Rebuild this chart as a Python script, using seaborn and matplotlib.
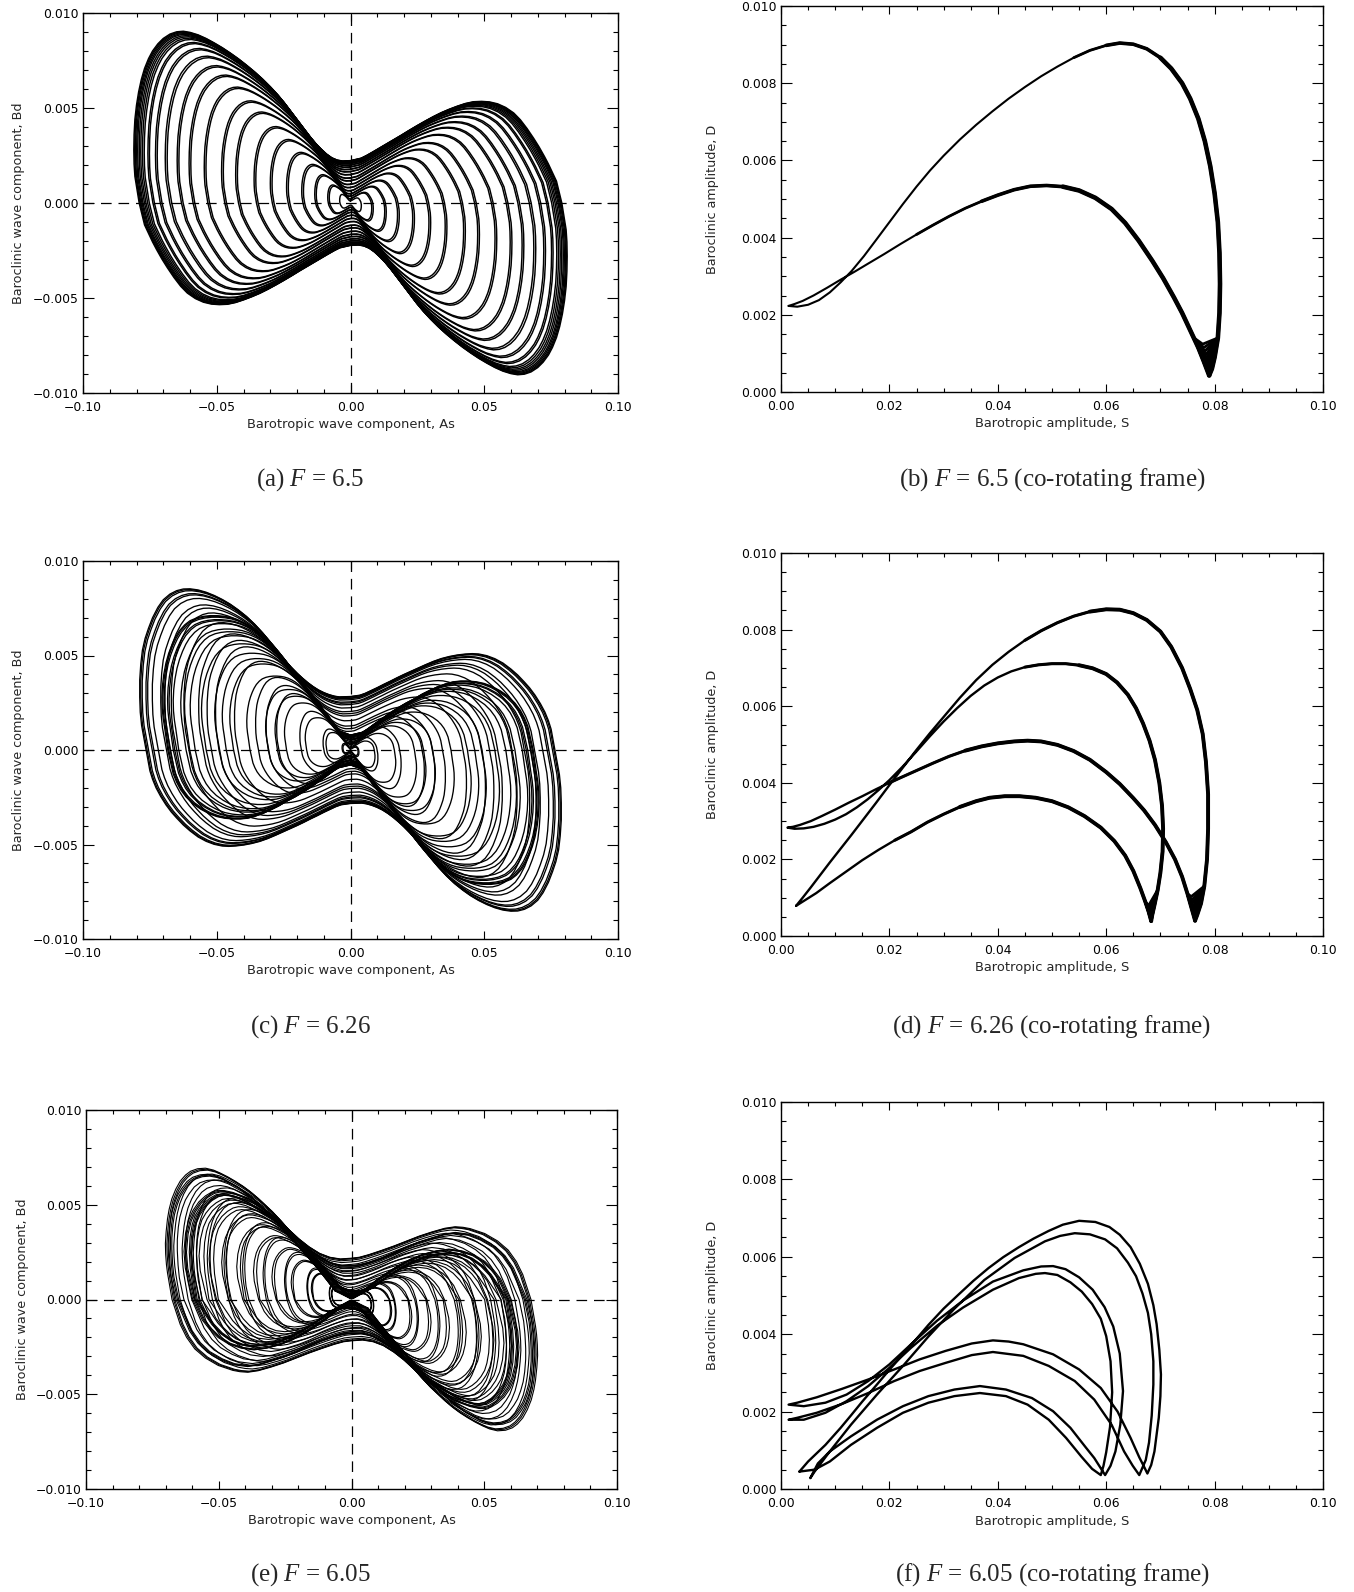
import numpy as np
import pandas as pd
import matplotlib
matplotlib.use("Agg")
import matplotlib.pyplot as plt
import seaborn as sns
from matplotlib.ticker import MultipleLocator, FuncFormatter

# ---------------------------------------------------------------
# Co-rotating frame loops (S, D).
# Each segment runs tip -> cusp (rising arch) or cusp -> tip.
# ---------------------------------------------------------------
# F = 6.5 : one arch pair
b_rise = [(0.0014, 0.00223), (0.0030, 0.00221), (0.0050, 0.00226), (0.0070, 0.00238), (0.0090, 0.00258),
          (0.0110, 0.00284), (0.0130, 0.00313), (0.0153, 0.00352), (0.0175, 0.00393), (0.0200, 0.00440),
          (0.0225, 0.00487), (0.0250, 0.00532), (0.0275, 0.00574), (0.0300, 0.00612), (0.0330, 0.00654),
          (0.0360, 0.00692), (0.0390, 0.00727), (0.0420, 0.00760), (0.0450, 0.00790), (0.0480, 0.00818),
          (0.0510, 0.00843), (0.0540, 0.00866), (0.0570, 0.00885), (0.0600, 0.00898), (0.0625, 0.00904),
          (0.0650, 0.00901), (0.0675, 0.00889), (0.0700, 0.00866), (0.0720, 0.00838), (0.0740, 0.00800),
          (0.0755, 0.00760), (0.0770, 0.00708), (0.0782, 0.00650), (0.0792, 0.00585), (0.0800, 0.00515),
          (0.0806, 0.00440), (0.0809, 0.00360), (0.0810, 0.00280), (0.0809, 0.00205), (0.0806, 0.00140),
          (0.0800, 0.00090), (0.0795, 0.00060), (0.0790, 0.00043)]
b_fall = [(0.0790, 0.00043), (0.0780, 0.00080), (0.0770, 0.00115), (0.0755, 0.00160), (0.0740, 0.00205),
          (0.0725, 0.00245), (0.0705, 0.00295), (0.0685, 0.00340), (0.0660, 0.00392), (0.0635, 0.00438),
          (0.0610, 0.00474), (0.0580, 0.00503), (0.0550, 0.00522), (0.0520, 0.00532), (0.0490, 0.00535),
          (0.0460, 0.00533), (0.0430, 0.00524), (0.0400, 0.00510), (0.0370, 0.00494), (0.0340, 0.00476),
          (0.0310, 0.00455), (0.0280, 0.00432), (0.0250, 0.00408), (0.0220, 0.00383), (0.0190, 0.00357),
          (0.0160, 0.00332), (0.0135, 0.00311), (0.0110, 0.00291), (0.0085, 0.00270), (0.0060, 0.00250),
          (0.0040, 0.00236), (0.0025, 0.00228), (0.0014, 0.00223)]
# depth of the cusp on successive passes (the black wedge near S = 0.079)
b_cusp_S = [0.0790, 0.0789, 0.0788, 0.0787, 0.0786, 0.0785, 0.0784, 0.0782, 0.0780, 0.0778]
b_cusp_D = [0.00043, 0.00052, 0.00061, 0.00070, 0.00079, 0.00088, 0.00097, 0.00106, 0.00115, 0.00124]

# F = 6.26 : two arch pairs
d_seg0 = [(0.0028, 0.00079), (0.0040, 0.00100), (0.0055, 0.00127), (0.0070, 0.00155), (0.0090, 0.00192),
          (0.0110, 0.00228), (0.0130, 0.00264), (0.0150, 0.00301), (0.0175, 0.00347), (0.0200, 0.00394),
          (0.0225, 0.00440), (0.0250, 0.00486), (0.0275, 0.00530), (0.0300, 0.00572), (0.0330, 0.00622),
          (0.0360, 0.00668), (0.0390, 0.00708), (0.0420, 0.00742), (0.0450, 0.00772), (0.0480, 0.00797),
          (0.0510, 0.00818), (0.0540, 0.00835), (0.0570, 0.00847), (0.0600, 0.00853), (0.0625, 0.00852),
          (0.0650, 0.00843), (0.0675, 0.00825), (0.0700, 0.00795), (0.0720, 0.00755), (0.0740, 0.00700),
          (0.0755, 0.00645), (0.0768, 0.00590), (0.0778, 0.00528), (0.0784, 0.00455), (0.0788, 0.00370),
          (0.0788, 0.00280), (0.0786, 0.00200), (0.0781, 0.00130), (0.0775, 0.00085), (0.0768, 0.00055),
          (0.0764, 0.00040)]
d_seg1 = [(0.0764, 0.00040), (0.0757, 0.00075), (0.0750, 0.00110), (0.0740, 0.00155), (0.0727, 0.00200),
          (0.0710, 0.00245), (0.0690, 0.00290), (0.0670, 0.00328), (0.0650, 0.00360), (0.0625, 0.00397),
          (0.0600, 0.00428), (0.0570, 0.00460), (0.0540, 0.00483), (0.0510, 0.00499), (0.0480, 0.00508),
          (0.0455, 0.00510), (0.0430, 0.00508), (0.0400, 0.00503), (0.0370, 0.00495), (0.0340, 0.00484),
          (0.0310, 0.00469), (0.0280, 0.00451), (0.0250, 0.00432), (0.0220, 0.00413), (0.0200, 0.00400),
          (0.0175, 0.00383), (0.0150, 0.00365), (0.0125, 0.00348), (0.0100, 0.00330), (0.0075, 0.00313),
          (0.0055, 0.00300), (0.0035, 0.00290), (0.0022, 0.00285), (0.0012, 0.00283)]
d_seg2 = [(0.0012, 0.00283), (0.0025, 0.00280), (0.0042, 0.00281), (0.0060, 0.00285), (0.0080, 0.00293),
          (0.0100, 0.00304), (0.0120, 0.00318), (0.0140, 0.00336), (0.0160, 0.00357), (0.0180, 0.00381),
          (0.0200, 0.00407), (0.0225, 0.00443), (0.0250, 0.00482), (0.0275, 0.00522), (0.0300, 0.00560),
          (0.0325, 0.00595), (0.0350, 0.00627), (0.0375, 0.00654), (0.0400, 0.00675), (0.0425, 0.00691),
          (0.0450, 0.00702), (0.0475, 0.00708), (0.0500, 0.00711), (0.0525, 0.00711), (0.0550, 0.00707),
          (0.0575, 0.00699), (0.0600, 0.00684), (0.0620, 0.00662), (0.0640, 0.00630), (0.0655, 0.00595),
          (0.0668, 0.00555), (0.0680, 0.00510), (0.0690, 0.00460), (0.0698, 0.00400), (0.0703, 0.00340),
          (0.0705, 0.00280), (0.0704, 0.00220), (0.0700, 0.00165), (0.0695, 0.00120), (0.0689, 0.00080),
          (0.0685, 0.00055), (0.0683, 0.00039)]
d_seg3 = [(0.0683, 0.00039), (0.0678, 0.00065), (0.0672, 0.00090), (0.0663, 0.00125), (0.0650, 0.00170),
          (0.0635, 0.00210), (0.0615, 0.00248), (0.0590, 0.00283), (0.0560, 0.00313), (0.0530, 0.00336),
          (0.0500, 0.00352), (0.0470, 0.00361), (0.0440, 0.00365), (0.0413, 0.00365), (0.0385, 0.00361),
          (0.0360, 0.00352), (0.0330, 0.00337), (0.0300, 0.00318), (0.0270, 0.00297), (0.0240, 0.00272),
          (0.0210, 0.00250), (0.0180, 0.00225), (0.0150, 0.00198), (0.0120, 0.00168), (0.0090, 0.00138),
          (0.0065, 0.00112), (0.0045, 0.00094), (0.0028, 0.00079)]
d_cusp1_S = [0.0764, 0.0763, 0.0762, 0.0761, 0.0760, 0.0759, 0.0758, 0.0757]
d_cusp1_D = [0.00040, 0.00049, 0.00058, 0.00067, 0.00076, 0.00085, 0.00094, 0.00103]
d_cusp2_S = [0.0683, 0.0682, 0.0681, 0.0680, 0.0679, 0.0678]
d_cusp2_D = [0.00039, 0.00047, 0.00055, 0.00063, 0.00071, 0.00079]

# F = 6.05 : four arch pairs
f_seg0 = [(0.0034, 0.00045), (0.0050, 0.00071), (0.0082, 0.00114), (0.0110, 0.00158), (0.0129, 0.00190),
          (0.0150, 0.00226), (0.0177, 0.00270), (0.0200, 0.00308), (0.0225, 0.00348), (0.0250, 0.00388),
          (0.0272, 0.00424), (0.0300, 0.00466), (0.0328, 0.00503), (0.0355, 0.00538), (0.0383, 0.00571),
          (0.0410, 0.00599), (0.0439, 0.00625), (0.0466, 0.00647), (0.0494, 0.00667), (0.0520, 0.00683),
          (0.0550, 0.00693), (0.0580, 0.00690), (0.0606, 0.00677), (0.0625, 0.00657), (0.0645, 0.00625),
          (0.0662, 0.00582), (0.0677, 0.00530), (0.0687, 0.00475), (0.0693, 0.00426), (0.0698, 0.00360),
          (0.0701, 0.00296), (0.0700, 0.00240), (0.0697, 0.00184), (0.0693, 0.00140), (0.0689, 0.00097),
          (0.0683, 0.00062), (0.0676, 0.00040)]
f_seg1 = [(0.0676, 0.00040), (0.0669, 0.00060), (0.0661, 0.00082), (0.0645, 0.00132), (0.0621, 0.00200),
          (0.0590, 0.00261), (0.0550, 0.00309), (0.0502, 0.00348), (0.0447, 0.00374), (0.0420, 0.00381),
          (0.0391, 0.00384), (0.0352, 0.00376), (0.0304, 0.00357), (0.0256, 0.00335), (0.0209, 0.00309),
          (0.0161, 0.00283), (0.0113, 0.00259), (0.0066, 0.00237), (0.0030, 0.00223), (0.0014, 0.00218)]
f_seg2 = [(0.0014, 0.00218), (0.0042, 0.00214), (0.0082, 0.00223), (0.0121, 0.00244), (0.0161, 0.00279),
          (0.0200, 0.00322), (0.0240, 0.00374), (0.0288, 0.00435), (0.0336, 0.00487), (0.0391, 0.00536),
          (0.0447, 0.00565), (0.0480, 0.00575), (0.0502, 0.00576), (0.0525, 0.00568), (0.0550, 0.00547),
          (0.0575, 0.00515), (0.0597, 0.00470), (0.0613, 0.00420), (0.0625, 0.00350), (0.0631, 0.00253),
          (0.0626, 0.00166), (0.0617, 0.00097), (0.0608, 0.00060), (0.0598, 0.00036)]
f_seg3 = [(0.0598, 0.00036), (0.0588, 0.00058), (0.0578, 0.00080), (0.0562, 0.00108), (0.0534, 0.00158),
          (0.0502, 0.00201), (0.0463, 0.00235), (0.0415, 0.00257), (0.0367, 0.00266), (0.0320, 0.00257),
          (0.0272, 0.00240), (0.0225, 0.00214), (0.0177, 0.00179), (0.0129, 0.00136), (0.0090, 0.00097),
          (0.0068, 0.00066), (0.0054, 0.00028)]
f_seg4 = [(0.0054, 0.00028), (0.0062, 0.00045), (0.0090, 0.00097), (0.0129, 0.00166), (0.0177, 0.00244),
          (0.0225, 0.00318), (0.0272, 0.00394), (0.0320, 0.00466), (0.0375, 0.00540), (0.0431, 0.00597),
          (0.0487, 0.00640), (0.0515, 0.00654), (0.0542, 0.00661), (0.0570, 0.00658), (0.0598, 0.00645),
          (0.0620, 0.00622), (0.0640, 0.00585), (0.0655, 0.00550), (0.0667, 0.00505), (0.0677, 0.00455),
          (0.0683, 0.00400), (0.0687, 0.00330), (0.0687, 0.00270), (0.0684, 0.00190), (0.0679, 0.00120),
          (0.0673, 0.00075), (0.0661, 0.00036)]
f_seg5 = [(0.0661, 0.00036), (0.0649, 0.00060), (0.0633, 0.00097), (0.0610, 0.00166), (0.0578, 0.00231),
          (0.0542, 0.00279), (0.0494, 0.00318), (0.0447, 0.00344), (0.0391, 0.00354), (0.0352, 0.00346),
          (0.0304, 0.00326), (0.0256, 0.00305), (0.0209, 0.00279), (0.0161, 0.00248), (0.0113, 0.00220),
          (0.0066, 0.00197), (0.0030, 0.00184), (0.0014, 0.00179)]
f_seg6 = [(0.0014, 0.00179), (0.0042, 0.00179), (0.0082, 0.00197), (0.0121, 0.00227), (0.0161, 0.00266),
          (0.0200, 0.00313), (0.0240, 0.00365), (0.0288, 0.00422), (0.0336, 0.00469), (0.0391, 0.00515),
          (0.0439, 0.00545), (0.0470, 0.00556), (0.0487, 0.00558), (0.0510, 0.00553), (0.0534, 0.00534),
          (0.0555, 0.00510), (0.0574, 0.00478), (0.0590, 0.00440), (0.0600, 0.00395), (0.0608, 0.00330),
          (0.0611, 0.00250), (0.0607, 0.00160), (0.0600, 0.00095), (0.0595, 0.00060), (0.0590, 0.00036)]
f_seg7 = [(0.0590, 0.00036), (0.0574, 0.00052), (0.0554, 0.00084), (0.0526, 0.00132), (0.0494, 0.00179),
          (0.0455, 0.00218), (0.0415, 0.00240), (0.0367, 0.00248), (0.0320, 0.00240), (0.0272, 0.00223),
          (0.0225, 0.00197), (0.0177, 0.00158), (0.0129, 0.00114), (0.0090, 0.00071), (0.0062, 0.00050),
          (0.0034, 0.00045)]

# size of the successive nested loops in the fixed-frame panels
# (outer extent of each loop relative to the outermost one)
scale_a = [1.000, 0.996, 0.992, 0.987, 0.982, 0.975, 0.968, 0.960, 0.952, 0.935, 0.928, 0.900, 0.892,
           0.855, 0.846, 0.800, 0.792, 0.745, 0.737, 0.675, 0.667, 0.595, 0.587, 0.530, 0.522, 0.445,
           0.437, 0.370, 0.362, 0.295, 0.287, 0.225, 0.217, 0.165, 0.158, 0.105, 0.098, 0.050]
scale_c = [1.000, 0.995, 0.988, 0.970, 0.962, 0.940, 0.900, 0.880, 0.850, 0.790, 0.720, 0.680, 0.640,
           0.550, 0.450, 0.400, 0.350, 0.240, 0.130, 0.040]
scale_e = [1.000, 0.992, 0.985, 0.955, 0.910, 0.850, 0.775, 0.685, 0.585, 0.475, 0.360, 0.240, 0.120]

captions = ["(a) $F$ = 6.5", "(b) $F$ = 6.5 (co-rotating frame)",
            "(c) $F$ = 6.26", "(d) $F$ = 6.26 (co-rotating frame)",
            "(e) $F$ = 6.05", "(f) $F$ = 6.05 (co-rotating frame)"]

# ---------------------------------------------------------------
sns.set_style("ticks")
plt.rcParams.update({
    "font.family": ["DejaVu Sans"],
    "mathtext.fontset": "custom",
    "mathtext.rm": "Liberation Serif",
    "mathtext.it": "Liberation Serif:italic",
    "axes.linewidth": 1.0,
    "axes.edgecolor": "black",
})

W, H = 1354, 1592
fig = plt.figure(figsize=(W / 100, H / 100), dpi=100)


def px_axes(x0, y0, x1, y1):
    return fig.add_axes([x0 / W, 1 - y1 / H, (x1 - x0) / W, (y1 - y0) / H])


def signed_track(segments):
    # In the fixed frame As changes sign as S passes through its minimum
    # (tip) and Bd changes sign as D passes through its minimum (cusp).
    sa, sb = -1.0, 1.0
    xs, ys = [], []
    reps = 0
    while True:
        for i, seg in enumerate(segments):
            rising = i % 2 == 0
            if not rising:
                sb = -sb
            elif xs:
                sa = -sa
            n = len(seg)
            tip_j, cusp_j = (0, n - 1) if rising else (n - 1, 0)
            for j, (s, d) in enumerate(seg):
                if j == tip_j:
                    s = 0.0
                elif j == cusp_j:
                    d = 0.0
                elif abs(j - tip_j) <= 2 and s < 0.003:
                    continue
                elif abs(j - cusp_j) <= 3 and d < 0.001:
                    continue
                xs.append(sa * s)
                ys.append(sb * d)
        reps += 1
        if (-sa, sb) == (-1.0, 1.0):
            break
    xs.append(xs[0])
    ys.append(ys[0])
    return np.array(xs), np.array(ys), reps == 2


def fmt(dec):
    def f(v, pos):
        s = f"{v:.{dec}f}"
        if float(s) == 0:
            s = f"{0:.{dec}f}"
        return s.replace("-", "\u2212")
    return FuncFormatter(f)


def style_axes(ax, left_panel):
    if left_panel:
        ax.set_xlim(-0.1, 0.1)
        ax.set_ylim(-0.01, 0.01)
        ax.xaxis.set_major_locator(MultipleLocator(0.05))
        ax.xaxis.set_minor_locator(MultipleLocator(0.01))
        ax.yaxis.set_major_locator(MultipleLocator(0.005))
        ax.yaxis.set_minor_locator(MultipleLocator(0.001))
        ax.set_xlabel("Barotropic wave component, As", fontsize=9.4)
        ax.set_ylabel("Baroclinic wave component, Bd", fontsize=9.2)
    else:
        ax.set_xlim(0, 0.1)
        ax.set_ylim(0, 0.01)
        ax.xaxis.set_major_locator(MultipleLocator(0.02))
        ax.xaxis.set_minor_locator(MultipleLocator(0.005))
        ax.yaxis.set_major_locator(MultipleLocator(0.002))
        ax.yaxis.set_minor_locator(MultipleLocator(0.0005))
        ax.set_xlabel("Barotropic amplitude, S", fontsize=9.4)
        ax.set_ylabel("Baroclinic amplitude, D", fontsize=9.2)
    ax.xaxis.set_major_formatter(fmt(2))
    ax.yaxis.set_major_formatter(fmt(3))
    ax.tick_params(which="both", direction="in", top=True, right=True, width=0.8,
                   colors="black", labelsize=8.9)
    ax.tick_params(axis="x", which="major", length=5.5, pad=6)
    ax.tick_params(axis="x", which="minor", length=2.8)
    ax.tick_params(axis="y", which="major", length=7.7, pad=3.5)
    ax.tick_params(axis="y", which="minor", length=3.9)
    ax.xaxis.set_label_coords(0.5, -0.066)
    ax.yaxis.set_label_coords(-0.108 if left_panel else -0.114, 0.5)
    for sp in ax.spines.values():
        sp.set_linewidth(1.0)
        sp.set_color("black")


def phase_panel(ax, segments, scales, lw):
    xs, ys, sym = signed_track(segments)
    parts = []
    for k, s in enumerate(scales):
        parts.append(pd.DataFrame({"As": s * xs, "Bd": s * ys, "trace": f"{k}p"}))
        if not sym:
            parts.append(pd.DataFrame({"As": -s * xs, "Bd": -s * ys, "trace": f"{k}m"}))
    df = pd.concat(parts, ignore_index=True)
    ax.axhline(0, color="black", lw=0.9, dashes=(8.5, 5.5), zorder=1)
    ax.axvline(0, color="black", lw=0.9, dashes=(8.5, 5.5), zorder=1)
    sns.lineplot(data=df, x="As", y="Bd", units="trace", estimator=None, sort=False,
                 color="black", lw=lw, ax=ax, legend=False)
    style_axes(ax, True)


def corot_panel(ax, segments, lw, tiers=(), wedges=()):
    pts = [p for seg in segments for p in seg]
    df = pd.DataFrame(pts, columns=["S", "D"])
    df["trace"] = "loop"
    sns.lineplot(data=df, x="S", y="D", units="trace", estimator=None, sort=False,
                 color="black", lw=lw, ax=ax, legend=False)
    # the passes spread into a thicker band towards large S
    for t, (rise_thr, fall_thr, lw_t) in enumerate(tiers):
        parts = []
        for i, seg in enumerate(segments):
            thr = rise_thr if i % 2 == 0 else fall_thr
            sub = [p for p in seg if p[0] >= thr]
            if len(sub) > 1:
                parts.append(pd.DataFrame(sub, columns=["S", "D"]).assign(trace=f"t{i}"))
        tdf = pd.concat(parts, ignore_index=True)
        sns.lineplot(data=tdf, x="S", y="D", units="trace", estimator=None, sort=False,
                     color="black", lw=lw_t, ax=ax, legend=False)
    # spread of the passes at the cusps
    vparts = []
    for w, (p_in, apex_S, apex_D, p_out) in enumerate(wedges):
        for k, (s, d) in enumerate(zip(apex_S, apex_D)):
            vparts.append(pd.DataFrame([p_in, (s, d), p_out], columns=["S", "D"]).assign(trace=f"w{w}_{k}"))
    if vparts:
        vdf = pd.concat(vparts, ignore_index=True)
        sns.lineplot(data=vdf, x="S", y="D", units="trace", estimator=None, sort=False,
                     color="black", lw=2.0, ax=ax, legend=False)
    style_axes(ax, False)


# ---------------------------------------------------------------
ax_a = px_axes(83, 13, 618, 393)
ax_b = px_axes(781, 6, 1323, 392)
ax_c = px_axes(83, 561, 618, 939)
ax_d = px_axes(781, 553, 1323, 936)
ax_e = px_axes(86, 1110, 617, 1489)
ax_f = px_axes(781, 1102, 1323, 1489)

seg_b = [b_rise, b_fall]
seg_d = [d_seg0, d_seg1, d_seg2, d_seg3]
seg_f = [f_seg0, f_seg1, f_seg2, f_seg3, f_seg4, f_seg5, f_seg6, f_seg7]

phase_panel(ax_a, seg_b, scale_a, 1.05)
phase_panel(ax_c, seg_d, scale_c, 0.95)
phase_panel(ax_e, seg_f, scale_e, 0.8)

corot_panel(ax_b, seg_b, 1.5,
            tiers=[(0.052, 0.025, 2.0), (0.060, 0.035, 2.6), (0.068, 0.050, 3.3)],
            wedges=[((0.0806, 0.00140), b_cusp_S, b_cusp_D, (0.0762, 0.00140))])
corot_panel(ax_d, seg_d, 1.7,
            tiers=[(0.045, 0.020, 2.2), (0.055, 0.032, 2.8)],
            wedges=[((0.0781, 0.00130), d_cusp1_S, d_cusp1_D, (0.0750, 0.00110)),
                    ((0.0695, 0.00120), d_cusp2_S, d_cusp2_D, (0.0672, 0.00090))])
corot_panel(ax_f, seg_f, 1.7)

cap_x = [310, 1052]
cap_y = [480, 1027, 1575]
for i, txt in enumerate(captions):
    fig.text(cap_x[i % 2] / W, 1 - cap_y[i // 2] / H, txt, ha="center", va="center",
             fontsize=18, family="Liberation Serif")

fig.savefig("out.png", dpi=100)
